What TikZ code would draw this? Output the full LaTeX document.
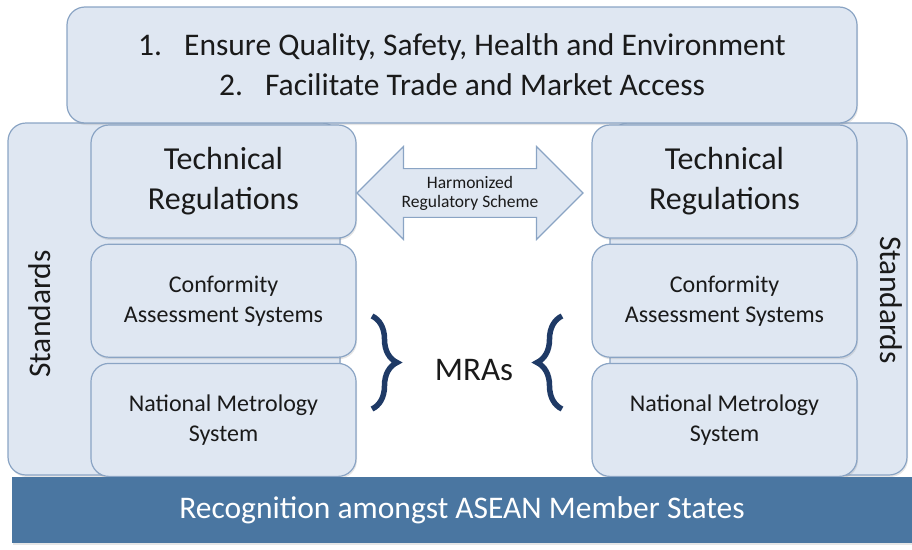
\documentclass[tikz,border=0pt]{standalone}
\usepackage{fontspec}
\setmainfont{Carlito}
\usepackage{xcolor}
\usepackage{tikz}
\usetikzlibrary{positioning, shapes.arrows, decorations.pathreplacing, shadows}

\definecolor{boxfill}{HTML}{DFE7F2}
\definecolor{boxline}{HTML}{8AA4C4}
\definecolor{barfill}{HTML}{4A76A1}
\definecolor{bracecol}{HTML}{1F3A66}
\definecolor{txt}{HTML}{1A1A1A}

\begin{document}
\begin{tikzpicture}[
    x=1pt, y=-1pt,
    node distance=5pt,
    panel/.style={
        rectangle,
        draw=boxline,
        line width=1.2pt,
        rounded corners=18pt,
        fill=boxfill,
        align=center,
        text=txt,
        drop shadow={shadow xshift=1pt, shadow yshift=-2pt, opacity=0.2}
    },
    block/.style={
        panel,
        minimum width=265pt,
        minimum height=113pt
    },
    bigfont/.style={font=\fontsize{31.5}{40}\selectfont},
    regfont/.style={font=\fontsize{32}{40}\selectfont},
    smallfont/.style={font=\fontsize{24}{30}\selectfont},
    curly/.style={decorate, decoration={brace, amplitude=#1}, line width=5.5pt, draw=bracecol}
]
\useasboundingbox (0,0) rectangle (912,549);

% standards at the sides
\node[panel, minimum width=332pt, minimum height=352pt] (stdL) at (174,299) {};
\node[panel, minimum width=297pt, minimum height=352pt] (stdR) at (758.5,299) {};
\node[bigfont, rotate=90, text=txt] (stdLtext) at (40,314) {Standards};
\node[bigfont, rotate=-90, text=txt] (stdRtext) at (891,300) {Standards};

% goals on top
\node[panel, bigfont, minimum width=790pt, minimum height=116pt] (goals) at (462,65)
    {1.\hspace{0.7em}Ensure Quality, Safety, Health and Environment\\
     2.\hspace{0.7em}Facilitate Trade and Market Access};

% left column
\node[block, regfont] (regL) at (223.5,181.5) {Technical\\Regulations};
\node[block, smallfont, below=of regL] (casL) {Conformity\\Assessment Systems};
\node[block, smallfont, below=of casL] (nmsL) {National Metrology\\System};

% right column
\node[block, regfont] (regR) at (724.5,181.5) {Technical\\Regulations};
\node[block, smallfont, below=of regR] (casR) {Conformity\\Assessment Systems};
\node[block, smallfont, below=of casR] (nmsR) {National Metrology\\System};

% harmonized scheme
\node[double arrow, draw=boxline, line width=1.2pt, fill=boxfill,
      minimum height=226pt, minimum width=93pt, double arrow head extend=21.5pt,
      inner ysep=6pt, align=center, text=txt,
      font=\fontsize{17.5}{19}\selectfont] (harm) at (470,193)
    {Harmonized\\Regulatory Scheme};

% MRAs
\node[font=\fontsize{33}{40}\selectfont, text=txt] (mra) at (474,370) {MRAs};
\draw[curly=25pt] (372,316) -- (372,409);
\draw[curly=25pt] (562,409) -- (562,316);

% base
\node[rectangle, fill=barfill, minimum width=900pt, minimum height=66pt,
      text=white, bigfont,
      drop shadow={shadow xshift=1pt, shadow yshift=-2pt, opacity=0.2}] (bar) at (462,510)
    {Recognition amongst ASEAN Member States};

\end{tikzpicture}
\end{document}
